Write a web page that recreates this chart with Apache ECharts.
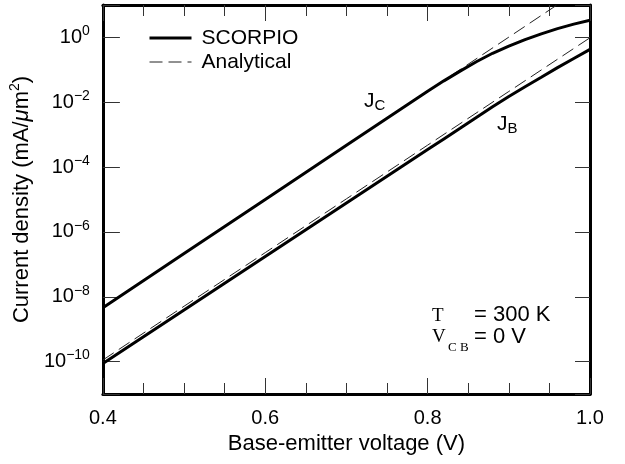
<!DOCTYPE html>
<html>
<head>
<meta charset="utf-8">
<script src="https://cdn.jsdelivr.net/npm/echarts@6/dist/echarts.min.js"></script>
<style>html,body{margin:0;padding:0;background:#fff}#c{width:625px;height:464px}</style>
</head>
<body>
<div id="c"></div>
<script>
// Data (current density in mA/µm² vs base-emitter voltage in V)
const voltageScorpio = [0.40, 0.50, 0.60, 0.70, 0.80, 0.82, 0.84, 0.86, 0.88, 0.90, 0.92, 0.94, 0.96, 0.98, 1.00];
const jcScorpio = [4.57e-9, 2.14e-7, 1.0e-5, 4.68e-4, 2.19e-2, 4.57e-2, 9.12e-2, 0.178, 0.324, 0.537, 0.851, 1.29, 1.86, 2.57, 3.39];
const jbScorpio = [8.71e-11, 3.89e-9, 1.74e-7, 7.76e-6, 3.47e-4, 7.41e-4, 1.58e-3, 3.39e-3, 7.24e-3, 1.51e-2, 3.02e-2, 5.89e-2, 0.117, 0.224, 0.427];
const voltageAnalytical = [0.40, 0.50, 0.60, 0.70, 0.80, 0.90, 1.00];
const jcAnalytical = [4.57e-9, 2.14e-7, 1.0e-5, 4.68e-4, 2.19e-2, 1.02, 47.9];
const jbAnalytical = [1.12e-10, 5.10e-9, 2.30e-7, 1.05e-5, 4.75e-4, 2.15e-2, 0.977];
const legendNames = ['SCORPIO', 'Analytical'];
const xTitle = 'Base-emitter voltage (V)';

const SANS = '"Liberation Sans", Arial, Helvetica, sans-serif';
const SERIF = '"Liberation Serif", "DejaVu Serif", serif';

function pairs(xs, ys) { return xs.map((x, i) => [x, ys[i]]); }

const chart = echarts.init(document.getElementById('c'), null, {renderer: 'canvas'});

const solidStyle = {color: '#000', width: 3, type: 'solid'};
const dashStyle = {color: '#222', width: 1, type: [13, 6]};

function xAxisCfg(pos, showLabel) {
  return {
    type: 'value', position: pos, min: 0.4, max: 1.0, interval: 0.2,
    axisLine: {show: true, onZero: false, lineStyle: {color: '#000', width: 3}},
    axisTick: {show: true, inside: true, length: 16, lineStyle: {color: '#333', width: 1}},
    minorTick: {show: true, splitNumber: 4, length: 11, lineStyle: {color: '#333', width: 1}},
    splitLine: {show: false}, minorSplitLine: {show: false},
    axisLabel: {show: showLabel, margin: 14, fontSize: 20, color: '#000', fontFamily: SANS,
      formatter: v => v.toFixed(1)},
    name: showLabel ? xTitle : '', nameLocation: 'middle', nameGap: 33,
    nameTextStyle: {fontSize: 22, color: '#000', fontFamily: SANS}
  };
}

function yAxisCfg(pos, showLabel, tickLen) {
  return {
    type: 'log', logBase: 100, position: pos, min: 1e-11, max: 10,
    axisLine: {show: true, onZero: false, lineStyle: {color: '#000', width: 3}},
    axisTick: {show: true, inside: true, length: tickLen, lineStyle: {color: '#333', width: 1}},
    splitLine: {show: false},
    axisLabel: {show: showLabel, margin: 13, color: '#000', fontFamily: SANS,
      formatter: function (v) {
        const e = Math.round(Math.log10(v));
        if (e % 2 !== 0) return '';
        const s = e < 0 ? '\u2212' + (-e) : String(e);
        return '{b|10}{s|' + s + '}';
      },
      rich: {
        b: {fontSize: 20, lineHeight: 26, fontFamily: SANS, color: '#000'},
        s: {fontSize: 14, lineHeight: 14, verticalAlign: 'top', fontFamily: SANS, color: '#000'}
      }
    },
    name: showLabel ? '{n|Current density (mA/}{i|\u03bc}{n|m}{s|2}{n|)}' : '',
    nameLocation: 'middle', nameGap: 45, nameRotate: 90,
    nameTextStyle: {
      fontSize: 22, color: '#000', fontFamily: SANS,
      rich: {
        n: {fontSize: 22, lineHeight: 28, fontFamily: SANS, color: '#000'},
        i: {fontSize: 22, lineHeight: 28, fontFamily: SANS, fontStyle: 'italic', color: '#000'},
        s: {fontSize: 14, lineHeight: 14, verticalAlign: 'top', fontFamily: SANS, color: '#000'}
      }
    }
  };
}

const option = {
  animation: false,
  backgroundColor: '#fff',
  grid: {left: 102, right: 35, top: 5, bottom: 70, containLabel: false},
  xAxis: [xAxisCfg('bottom', true), xAxisCfg('top', false)],
  yAxis: [yAxisCfg('left', true, 17), yAxisCfg('right', false, 15)],
  legend: {
    show: true, left: 143, top: 22, orient: 'vertical', selectedMode: false,
    itemWidth: 42, itemHeight: 14, itemGap: 2,
    itemStyle: {opacity: 0},
    textStyle: {fontSize: 21, lineHeight: 22, color: '#000', fontFamily: SANS, padding: [0, 0, 0, 5]},
    data: [
      {name: legendNames[0], lineStyle: {width: 3, color: '#000'}},
      {name: legendNames[1], lineStyle: {width: 1, color: '#222'}}
    ]
  },
  series: [
    {name: legendNames[1], type: 'line', data: pairs(voltageAnalytical, jcAnalytical), symbol: 'none', showSymbol: false, lineStyle: dashStyle, itemStyle: {color: '#222'}, clip: true, z: 2},
    {name: legendNames[1], type: 'line', data: pairs(voltageAnalytical, jbAnalytical), symbol: 'none', showSymbol: false, lineStyle: dashStyle, itemStyle: {color: '#222'}, clip: true, z: 2},
    {name: legendNames[0], type: 'line', data: pairs(voltageScorpio, jcScorpio), symbol: 'none', showSymbol: false, lineStyle: solidStyle, itemStyle: {color: '#000'}, clip: true, z: 3},
    {name: legendNames[0], type: 'line', data: pairs(voltageScorpio, jbScorpio), symbol: 'none', showSymbol: false, lineStyle: solidStyle, itemStyle: {color: '#000'}, clip: true, z: 3}
  ],
  graphic: [
    {type: 'text', x: 364, y: 101, style: {text: '{j|J}{c|C}', verticalAlign: 'middle', rich: {
      j: {fontSize: 21, lineHeight: 24, fontFamily: SANS, fill: '#000'},
      c: {fontSize: 15, lineHeight: 15, verticalAlign: 'bottom', fontFamily: SANS, fill: '#000'}}}},
    {type: 'text', x: 497, y: 124, style: {text: '{j|J}{c|B}', verticalAlign: 'middle', rich: {
      j: {fontSize: 21, lineHeight: 24, fontFamily: SANS, fill: '#000'},
      c: {fontSize: 15, lineHeight: 15, verticalAlign: 'bottom', fontFamily: SANS, fill: '#000'}}}},
    {type: 'text', x: 432, y: 316, style: {text: 'T', fontSize: 19, fontFamily: SERIF, fill: '#000', verticalAlign: 'middle'}},
    {type: 'text', x: 474, y: 315, style: {text: '= 300 K', fontSize: 22, fontFamily: SANS, fill: '#000', verticalAlign: 'middle'}},
    {type: 'text', x: 432, y: 337, style: {text: 'V', fontSize: 19, fontFamily: SERIF, fill: '#000', verticalAlign: 'middle'}},
    {type: 'text', x: 448, y: 348, style: {text: 'C B', fontSize: 13, fontFamily: SERIF, fill: '#000', verticalAlign: 'middle'}},
    {type: 'text', x: 474, y: 337, style: {text: '= 0 V', fontSize: 22, fontFamily: SANS, fill: '#000', verticalAlign: 'middle'}}
  ]
};
chart.setOption(option);
</script>
</body>
</html>
